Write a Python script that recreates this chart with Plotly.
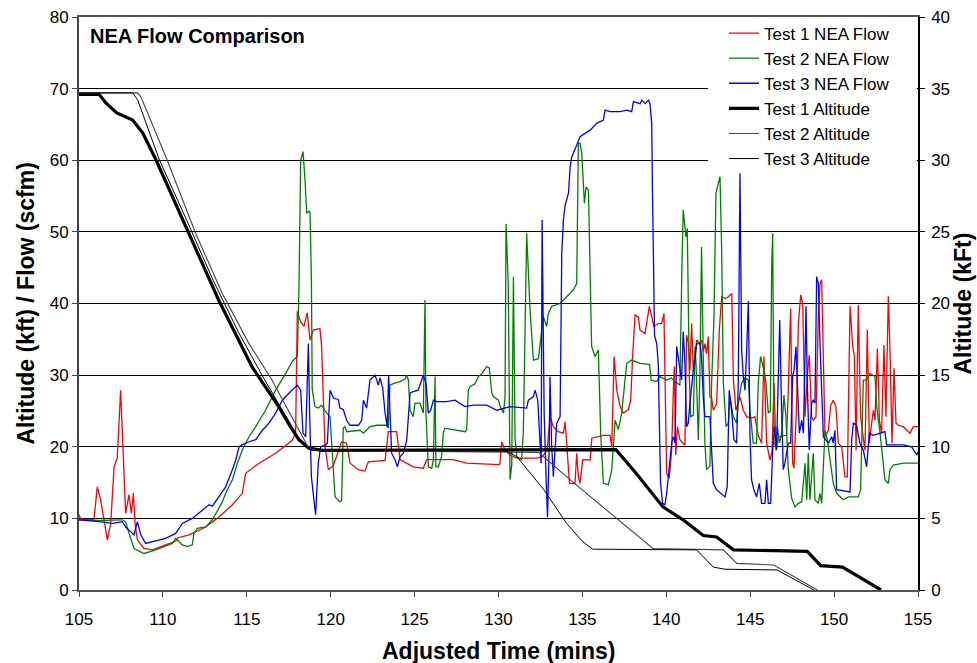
import plotly.graph_objects as go

# ---------------- data (time in minutes, flow in scfm, altitude in kft) ----------------
test1_flow = [
    (105.0, 10.5), (105.1, 9.9), (105.89, 9.8), (106.09, 14.4), (106.29, 12.6), (106.69, 7.0),
    (106.89, 9.3), (107.09, 17.2), (107.28, 18.4), (107.48, 27.9), (107.78, 10.7), (107.98, 13.3),
    (108.12, 10.7), (108.24, 13.5), (108.34, 9.3), (108.48, 7.0), (108.87, 5.8), (109.37, 5.6),
    (110.16, 6.3), (110.76, 6.8), (110.9, 7.3), (111.56, 7.7), (112.55, 8.8), (113.34, 10.2),
    (114.14, 11.9), (114.73, 13.5), (114.93, 16.3), (115.73, 17.7), (116.72, 19.1), (117.71, 20.9),
    (117.91, 21.9), (118.01, 38.9), (118.2, 37.5), (118.41, 36.8), (118.6, 38.7), (118.77, 34.9),
    (118.96, 36.3), (119.36, 36.5), (119.46, 34.0), (119.66, 20.0), (119.86, 16.8), (120.16, 17.4),
    (120.65, 20.7), (120.95, 20.5), (121.15, 17.7), (121.65, 16.8), (122.04, 16.6), (122.24, 17.9),
    (123.24, 18.1), (123.43, 22.1), (123.93, 22.1), (124.13, 18.2), (124.92, 17.2), (125.52, 17.0),
    (125.72, 18.2), (127.31, 18.2), (128.1, 17.7), (130.0, 17.5), (130.09, 17.6), (130.19, 20.7),
    (130.39, 19.5), (130.68, 18.85), (131.1, 18.4), (132.3, 18.4), (132.6, 18.6), (132.9, 19.5),
    (133.07, 24.2), (133.27, 22.8), (133.57, 22.1), (133.87, 21.9), (133.97, 23.5), (134.07, 20.0),
    (134.23, 14.9), (134.56, 14.9), (134.66, 19.1), (134.76, 15.8), (134.86, 14.9), (135.02, 18.2),
    (135.46, 18.15), (135.56, 21.2), (136.25, 21.6), (136.65, 21.6), (136.75, 20.0), (136.89, 32.6),
    (137.05, 27.9), (137.25, 25.6), (137.44, 24.7), (137.74, 25.2), (137.88, 26.5), (138.0, 33.0),
    (138.14, 38.4), (138.34, 38.1), (138.43, 36.3), (138.73, 35.8), (138.99, 39.6), (139.13, 38.2),
    (139.26, 36.8), (139.52, 37.2), (139.72, 37.2), (139.86, 38.6), (139.92, 32.0), (140.02, 16.3),
    (140.18, 15.6), (140.32, 19.55), (140.42, 27.9), (140.48, 31.2), (140.56, 18.85), (140.66, 22.8),
    (140.81, 21.0), (141.11, 20.2), (141.21, 35.6), (141.31, 34.5), (141.41, 30.7), (141.51, 37.2),
    (141.61, 30.7), (141.71, 32.6), (141.81, 34.9), (142.0, 34.4), (142.1, 34.9), (142.2, 33.3),
    (142.3, 34.4), (142.4, 33.0), (142.5, 35.4), (142.6, 27.0), (142.7, 26.8), (142.8, 25.1),
    (143.0, 26.0), (143.16, 36.3), (143.3, 40.95), (143.5, 40.7), (143.7, 40.95), (143.9, 41.4),
    (144.0, 29.3), (144.15, 25.1), (144.39, 27.0), (144.59, 25.1), (144.79, 24.2), (145.08, 24.0),
    (145.28, 24.2), (145.48, 21.6), (145.68, 20.5), (145.82, 32.6), (145.98, 20.5), (146.18, 18.15),
    (146.3, 19.3), (146.42, 28.9), (146.54, 19.5), (146.68, 21.4), (147.17, 21.6), (147.27, 27.9),
    (147.41, 39.3), (147.53, 17.7), (147.61, 17.0), (147.77, 26.1), (147.87, 37.2), (148.01, 41.2),
    (148.13, 40.0), (148.27, 24.2), (148.4, 29.8), (148.52, 32.8), (148.66, 24.2), (148.76, 23.7),
    (148.92, 24.2), (149.06, 38.2), (149.16, 42.8), (149.26, 43.3), (149.36, 33.5), (149.46, 21.4),
    (149.66, 22.3), (149.8, 25.8), (149.95, 26.5), (150.11, 25.6), (150.25, 20.5), (150.45, 20.0),
    (150.65, 15.8), (150.79, 15.8), (150.95, 39.6), (151.11, 34.0), (151.21, 32.6), (151.31, 19.5),
    (151.44, 39.8), (151.58, 24.2), (151.7, 21.9), (151.84, 19.5), (151.98, 36.3), (152.1, 20.5),
    (152.24, 23.3), (152.34, 25.1), (152.44, 23.7), (152.58, 33.7), (152.7, 23.7), (152.83, 21.9),
    (152.97, 34.2), (153.09, 24.2), (153.23, 41.0), (153.33, 33.5), (153.45, 20.5), (153.57, 30.95),
    (153.69, 23.3), (153.83, 23.0), (154.13, 22.8), (154.52, 21.9), (154.72, 22.8), (155.0, 22.8),
]

test2_flow = [
    (105.0, 9.8), (106.2, 9.7), (107.58, 9.8), (107.78, 9.5), (107.98, 7.9), (108.28, 5.8),
    (108.87, 5.1), (109.57, 5.6), (110.56, 6.5), (110.76, 7.2), (111.16, 6.3), (111.46, 6.05),
    (111.75, 6.3), (111.85, 7.9), (112.05, 8.6), (112.55, 8.8), (112.95, 9.8), (113.34, 11.6),
    (113.54, 12.3), (113.74, 13.5), (114.14, 15.4), (114.44, 17.7), (114.73, 19.55), (115.13, 21.4),
    (115.53, 22.8), (116.12, 25.1), (116.72, 27.9), (117.32, 30.25), (117.71, 31.9), (118.01, 32.6),
    (118.11, 42.3), (118.21, 60.0), (118.35, 61.2), (118.47, 57.2), (118.57, 52.6), (118.71, 52.9),
    (118.77, 52.6), (118.85, 43.3), (118.9, 28.0), (119.06, 25.6), (119.26, 25.4), (119.46, 25.8),
    (119.66, 25.1), (119.76, 24.7), (119.96, 24.2), (120.06, 20.0), (120.26, 13.0), (120.55, 12.3),
    (120.65, 12.5), (120.75, 22.6), (120.85, 22.8), (120.95, 22.1), (121.75, 22.3), (121.95, 21.9),
    (122.34, 22.8), (122.74, 23.0), (123.33, 23.0), (123.43, 22.6), (123.53, 28.6), (123.73, 28.8),
    (124.13, 29.1), (124.43, 29.5), (124.53, 30.0), (124.63, 29.3), (124.73, 25.1), (124.92, 24.2),
    (125.02, 26.1), (125.32, 26.1), (125.52, 24.7), (125.62, 40.5), (125.68, 24.5), (125.82, 17.2),
    (126.02, 17.0), (126.12, 18.2), (126.22, 29.8), (126.27, 17.2), (126.41, 17.2), (126.61, 18.6),
    (126.71, 21.9), (126.81, 22.6), (127.5, 22.3), (128.0, 22.1), (128.1, 22.3), (128.2, 27.9),
    (128.3, 28.4), (128.6, 28.8), (128.8, 29.8), (129.0, 30.2), (129.3, 31.2), (129.45, 31.0),
    (129.6, 27.5), (129.7, 27.0), (130.0, 26.5), (130.1, 25.6), (130.3, 24.7), (130.39, 27.0),
    (130.45, 51.1), (130.58, 42.8), (130.69, 15.4), (130.79, 17.5), (130.89, 43.7), (130.99, 21.0),
    (131.09, 18.6), (131.38, 18.2), (131.48, 22.1), (131.68, 49.8), (131.88, 39.1), (132.08, 32.1),
    (132.38, 32.3), (132.48, 34.4), (132.67, 38.2), (132.87, 36.8), (132.97, 38.6), (133.17, 39.6),
    (133.67, 40.0), (134.07, 40.95), (134.46, 41.9), (134.66, 42.8), (134.76, 62.4), (134.86, 62.4),
    (134.96, 61.0), (135.12, 54.0), (135.22, 56.3), (135.36, 55.8), (135.55, 34.0), (135.75, 32.6),
    (135.95, 33.5), (136.09, 21.9), (136.25, 14.9), (136.55, 14.7), (136.75, 16.8), (136.95, 23.7),
    (137.14, 22.4), (137.34, 24.7), (137.64, 31.65), (137.94, 32.1), (138.43, 31.65), (139.0, 31.5),
    (139.1, 29.3), (139.42, 29.1), (139.62, 29.8), (140.02, 29.3), (140.3, 29.6), (140.52, 29.1),
    (140.81, 28.6), (140.93, 45.1), (141.01, 53.05), (141.17, 49.3), (141.25, 50.5), (141.37, 30.0),
    (141.45, 24.2), (141.61, 24.4), (141.71, 34.0), (141.77, 31.65), (141.91, 20.95), (142.0, 29.8),
    (142.1, 47.9), (142.2, 32.6), (142.3, 20.5), (142.4, 16.8), (142.6, 17.3), (142.7, 28.9),
    (142.84, 38.0), (142.96, 55.4), (143.1, 57.0), (143.2, 57.7), (143.3, 47.5), (143.4, 28.9),
    (143.56, 22.8), (143.7, 23.3), (143.79, 27.0), (143.99, 24.2), (144.19, 23.3), (144.29, 26.1),
    (144.49, 28.9), (144.69, 29.6), (144.89, 29.3), (144.99, 25.1), (145.18, 20.5), (145.38, 20.5),
    (145.48, 28.9), (145.62, 32.6), (145.82, 30.7), (145.94, 28.9), (146.08, 24.7), (146.2, 25.0),
    (146.28, 45.0), (146.34, 49.8), (146.42, 20.5), (146.54, 20.0), (146.62, 22.8), (146.74, 20.5),
    (146.88, 21.9), (147.01, 27.2), (147.13, 24.2), (147.27, 16.8), (147.47, 12.8), (147.67, 11.6),
    (147.87, 12.1), (148.07, 12.3), (148.27, 17.7), (148.37, 12.6), (148.46, 19.1), (148.56, 12.6),
    (148.76, 19.1), (148.86, 12.6), (149.06, 12.1), (149.16, 13.5), (149.26, 12.1), (149.46, 22.3),
    (149.6, 20.95), (149.76, 18.15), (149.95, 14.9), (150.15, 13.5), (150.35, 13.0), (150.55, 12.6),
    (150.85, 13.0), (151.15, 13.0), (151.44, 13.0), (151.58, 14.0), (151.64, 21.4), (151.74, 29.3),
    (151.94, 29.3), (152.14, 30.25), (152.44, 29.8), (152.54, 25.6), (152.74, 21.9), (152.9, 17.7),
    (153.03, 15.4), (153.23, 14.9), (153.33, 16.8), (153.53, 17.45), (154.13, 17.7), (155.0, 17.7),
]

test3_flow = [
    (105.0, 9.8), (105.6, 9.7), (106.2, 9.55), (106.99, 9.3), (107.58, 9.55), (107.78, 8.8),
    (108.08, 8.2), (108.28, 7.7), (108.48, 9.55), (108.68, 7.7), (108.97, 6.5), (109.57, 6.8),
    (110.16, 7.2), (110.76, 7.9), (111.16, 9.3), (111.75, 10.0), (112.35, 11.2), (112.75, 11.9),
    (112.95, 11.7), (113.34, 13.0), (113.74, 14.4), (114.14, 16.8), (114.34, 18.15), (114.54, 20.0),
    (114.73, 20.3), (115.13, 20.7), (115.53, 21.0), (115.93, 22.3), (116.32, 23.3), (116.72, 24.7),
    (117.12, 26.5), (117.52, 27.5), (118.01, 28.6), (118.21, 27.9), (118.35, 21.9), (118.51, 21.4),
    (118.67, 34.4), (118.75, 24.0), (118.85, 15.8), (119.0, 12.6), (119.1, 10.5), (119.26, 17.7),
    (119.4, 20.0), (119.66, 20.2), (119.8, 20.5), (119.96, 27.9), (120.16, 26.8), (120.45, 26.6),
    (120.55, 25.4), (120.75, 25.2), (120.95, 23.7), (121.15, 23.0), (121.65, 23.0), (121.85, 23.7),
    (121.95, 26.5), (122.14, 25.4), (122.34, 29.3), (122.64, 30.0), (122.84, 28.6), (122.94, 29.6),
    (123.1, 28.2), (123.24, 24.7), (123.37, 22.8), (123.45, 30.0), (123.53, 24.5), (123.63, 19.1),
    (123.83, 18.2), (123.97, 17.2), (124.13, 18.6), (124.33, 19.1), (124.53, 20.9), (124.73, 27.5),
    (124.92, 27.7), (125.22, 27.9), (125.36, 28.9), (125.52, 30.0), (125.68, 28.9), (125.82, 24.7),
    (125.96, 25.1), (126.12, 26.5), (126.31, 26.3), (126.91, 26.3), (127.41, 26.5), (127.71, 26.1),
    (128.0, 25.6), (128.5, 25.8), (129.3, 25.8), (129.9, 25.1), (130.3, 25.3), (130.69, 25.6),
    (131.68, 25.4), (131.78, 26.5), (132.08, 27.0), (132.18, 27.9), (132.34, 26.5), (132.42, 22.8),
    (132.54, 17.7), (132.6, 51.7), (132.72, 24.7), (132.84, 15.4), (132.92, 10.2), (133.02, 20.0),
    (133.07, 29.8), (133.17, 20.0), (133.27, 15.8), (133.47, 23.3), (133.67, 24.2), (133.77, 47.0),
    (133.87, 51.7), (133.97, 53.7), (134.17, 55.4), (134.27, 59.1), (134.37, 60.5), (134.66, 62.1),
    (134.86, 63.3), (135.16, 63.75), (135.46, 64.2), (135.85, 65.15), (136.25, 65.6), (136.35, 67.0),
    (136.65, 66.8), (137.25, 66.8), (137.64, 67.0), (137.94, 66.8), (138.04, 68.2), (138.44, 67.9),
    (138.54, 68.4), (138.74, 67.9), (138.94, 68.4), (139.03, 67.9), (139.13, 65.15), (139.18, 55.0),
    (139.22, 47.9), (139.3, 35.5), (139.43, 34.4), (139.52, 31.65), (139.58, 24.2), (139.66, 14.9),
    (139.78, 12.1), (139.92, 11.9), (140.02, 13.5), (140.18, 16.8), (140.32, 20.5), (140.42, 21.4),
    (140.52, 20.5), (140.62, 34.0), (140.71, 32.6), (140.81, 31.2), (140.91, 29.3), (141.01, 36.1),
    (141.11, 31.6), (141.21, 22.8), (141.31, 23.3), (141.41, 26.1), (141.51, 28.9), (141.61, 30.7),
    (141.71, 32.1), (141.81, 34.4), (142.01, 34.4), (142.1, 32.6), (142.2, 27.0), (142.3, 24.2),
    (142.6, 24.2), (142.7, 19.1), (142.8, 14.9), (143.0, 14.0), (143.5, 13.0), (143.63, 14.4),
    (143.75, 27.9), (143.89, 25.1), (144.03, 21.0), (144.19, 20.5), (144.29, 28.9), (144.39, 58.2),
    (144.49, 33.5), (144.59, 29.8), (144.69, 27.9), (144.79, 33.5), (144.89, 40.3), (144.99, 21.4),
    (145.08, 15.4), (145.22, 14.0), (145.38, 13.0), (145.54, 14.9), (145.68, 12.1), (145.88, 12.1),
    (145.98, 15.4), (146.08, 12.1), (146.22, 12.1), (146.34, 19.5), (146.44, 22.8), (146.57, 19.55),
    (146.76, 37.7), (146.88, 24.2), (146.97, 16.8), (147.07, 17.7), (147.27, 20.5), (147.41, 20.5),
    (147.53, 29.8), (147.61, 30.7), (147.73, 34.0), (147.81, 28.9), (147.93, 21.9), (148.07, 23.7),
    (148.17, 21.9), (148.33, 39.6), (148.4, 28.9), (148.52, 19.55), (148.66, 26.1), (148.76, 26.5),
    (148.86, 26.1), (148.96, 43.75), (149.06, 42.8), (149.16, 34.4), (149.26, 26.1), (149.36, 21.4),
    (149.66, 20.5), (149.86, 21.4), (149.95, 20.5), (150.05, 22.3), (150.15, 14.0), (150.95, 13.7),
    (151.05, 21.0), (151.15, 23.3), (151.34, 23.0), (151.54, 20.5), (151.74, 19.55), (151.94, 17.2),
    (152.1, 21.9), (152.34, 21.6), (153.03, 22.1), (153.13, 20.25), (154.13, 20.25), (154.62, 20.0),
    (154.92, 18.85), (155.0, 19.3),
]

test1_alt = [
    (105.0, 34.6), (106.2, 34.6), (106.6, 34.0), (107.25, 33.3), (108.2, 32.8), (108.8, 31.9),
    (109.6, 30.0), (111.2, 25.8), (113.3, 20.3), (115.3, 15.6), (116.9, 12.8), (117.6, 11.4),
    (118.1, 10.5), (118.7, 9.9), (119.5, 9.75), (137.0, 9.8), (138.2, 8.15), (139.8, 5.8),
    (141.0, 4.9), (142.2, 3.8), (143.0, 3.7), (144.0, 2.8), (148.4, 2.7), (149.2, 1.7),
    (150.5, 1.6), (152.8, 0.0),
]

test2_alt = [
    (105.0, 34.7), (108.5, 34.7), (108.7, 34.4), (110.26, 30.0), (111.95, 24.9), (113.54, 20.7),
    (115.13, 17.2), (116.5, 14.66), (117.9, 11.6), (118.7, 9.9), (119.2, 9.75), (132.4, 9.6),
    (134.26, 7.7), (139.2, 2.9), (143.4, 2.8), (144.2, 1.86), (146.4, 1.75), (149.0, 0.0),
]

test3_alt = [
    (105.0, 34.7), (108.2, 34.7), (108.5, 34.2), (109.8, 30.0), (111.5, 25.6), (113.0, 21.6),
    (114.5, 18.0), (116.0, 14.8), (117.3, 12.2), (118.3, 10.2), (118.9, 9.75), (130.5, 9.7),
    (131.1, 9.3), (132.7, 7.0), (134.06, 4.65), (135.0, 3.4), (135.6, 2.85), (141.8, 2.8),
    (142.8, 1.6), (143.5, 1.45), (146.6, 1.4), (148.8, 0.0),
]

x_ticks = [105, 110, 115, 120, 125, 130, 135, 140, 145, 150, 155]

FONT = "Arial, Liberation Sans, sans-serif"

def xs(series):
    return [p[0] for p in series]

def ys(series):
    return [p[1] for p in series]

fig = go.Figure()

flow_series = [
    ("Test 1 NEA Flow", test1_flow, "#FF0000"),
    ("Test 2 NEA Flow", test2_flow, "#008000"),
    ("Test 3 NEA Flow", test3_flow, "#0000FF"),
]
for name, s, col in flow_series:
    fig.add_trace(go.Scatter(x=xs(s), y=ys(s), mode="lines", name=name,
                             line=dict(color=col, width=1.3), yaxis="y"))

alt_series = [
    ("Test 1 Altitude", test1_alt, "#000000", 3.2),
    ("Test 2 Altitude", test2_alt, "#444444", 1.1),
    ("Test 3 Altitude", test3_alt, "#000000", 1.0),
]
for name, s, col, w in alt_series:
    fig.add_trace(go.Scatter(x=xs(s), y=ys(s), mode="lines", name=name,
                             line=dict(color=col, width=w), yaxis="y2"))

fig.update_layout(
    width=977, height=663,
    margin=dict(l=79, r=59, t=17, b=73, autoexpand=False),
    paper_bgcolor="white", plot_bgcolor="white",
    font=dict(family=FONT, size=17, color="black"),
    showlegend=True,
    legend=dict(x=0.7688, y=1.0026, xanchor="left", yanchor="top",
                bgcolor="rgba(255,255,255,0)", borderwidth=0,
                font=dict(family=FONT, size=17, color="black"),
                tracegroupgap=0),
    xaxis=dict(range=[105, 155], tickvals=x_ticks, ticks="outside", ticklen=5,
               tickcolor="#444", showgrid=False, zeroline=False,
               showline=True, linecolor="#555", linewidth=2, mirror=True,
               ticklabelstandoff=8, tickfont=dict(size=17)),
    yaxis=dict(range=[0, 80], dtick=10, ticks="outside", ticklen=5, tickcolor="#444",
               showgrid=True, gridcolor="black", gridwidth=1, zeroline=False,
               showline=True, linecolor="#444", linewidth=2, tickfont=dict(size=17)),
    yaxis2=dict(range=[0, 40], dtick=5, overlaying="y", side="right",
                ticks="outside", ticklen=5, tickcolor="black",
                showgrid=False, zeroline=False, showline=True, linecolor="black",
                linewidth=1.5, ticklabelstandoff=3, tickfont=dict(size=17)),
    shapes=[dict(type="rect", xref="paper", yref="paper", x0=0.7497, x1=0.9985,
                 y0=0.7345, y1=0.9972, fillcolor="white", line=dict(width=0),
                 layer="above")],
    annotations=[
        dict(text="<b>NEA Flow Comparison</b>", xref="paper", yref="paper",
             x=0.0107, y=0.967, xanchor="left", yanchor="middle", showarrow=False,
             font=dict(family=FONT, size=20)),
        dict(text="<b>Adjusted Time (mins)</b>", xref="paper", yref="paper",
             x=0.5, y=-0.1065, xanchor="center", yanchor="middle", showarrow=False,
             font=dict(family=FONT, size=23)),
        dict(text="<b>Altitude (kft) / Flow (scfm)</b>", xref="paper", yref="paper",
             x=(25 - 79) / 839, y=0.5, xanchor="center", yanchor="middle",
             textangle=-90, showarrow=False, font=dict(family=FONT, size=23)),
        dict(text="<b>Altitude (kFt)</b>", xref="paper", yref="paper",
             x=(962 - 79) / 839, y=0.5, xanchor="center", yanchor="middle",
             textangle=-90, showarrow=False, font=dict(family=FONT, size=23)),
    ],
)

fig.write_html("out.html")
